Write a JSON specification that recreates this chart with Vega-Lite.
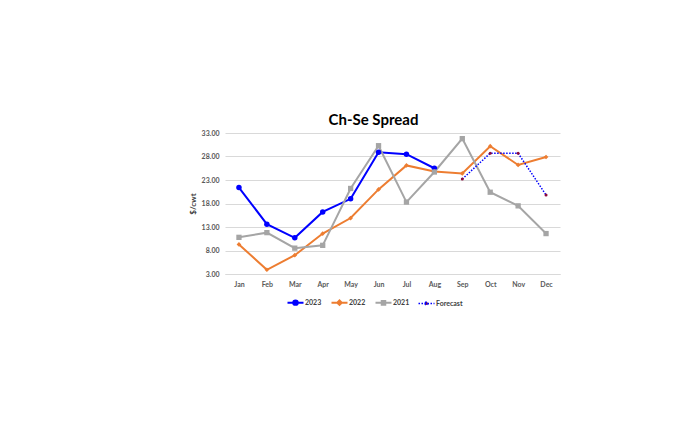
{
  "$schema": "https://vega.github.io/schema/vega-lite/v6.json",
  "autosize": {"type": "none"},
  "width": 335,
  "height": 141,
  "padding": {"left": 225, "top": 133, "right": 136, "bottom": 171},
  "background": "white",
  "title": {
    "text": "Ch-Se Spread",
    "font": "Lato",
    "fontSize": 15,
    "fontWeight": "bold",
    "color": "#000000",
    "anchor": "middle",
    "dx": -19,
    "offset": 1
  },
  "config": {
    "view": {"stroke": null},
    "font": "Lato"
  },
  "data": {
    "values": [
      {"month": "Jan", "series": "2023", "value": 21.4},
      {"month": "Feb", "series": "2023", "value": 13.6},
      {"month": "Mar", "series": "2023", "value": 10.7},
      {"month": "Apr", "series": "2023", "value": 16.2},
      {"month": "May", "series": "2023", "value": 19.0},
      {"month": "Jun", "series": "2023", "value": 28.9},
      {"month": "Jul", "series": "2023", "value": 28.5},
      {"month": "Aug", "series": "2023", "value": 25.5},
      {"month": "Jan", "series": "2022", "value": 9.3},
      {"month": "Feb", "series": "2022", "value": 3.9},
      {"month": "Mar", "series": "2022", "value": 7.0},
      {"month": "Apr", "series": "2022", "value": 11.6},
      {"month": "May", "series": "2022", "value": 14.9},
      {"month": "Jun", "series": "2022", "value": 21.0},
      {"month": "Jul", "series": "2022", "value": 26.1},
      {"month": "Aug", "series": "2022", "value": 24.8},
      {"month": "Sep", "series": "2022", "value": 24.4},
      {"month": "Oct", "series": "2022", "value": 30.2},
      {"month": "Nov", "series": "2022", "value": 26.2},
      {"month": "Dec", "series": "2022", "value": 27.9},
      {"month": "Jan", "series": "2021", "value": 10.8},
      {"month": "Feb", "series": "2021", "value": 11.8},
      {"month": "Mar", "series": "2021", "value": 8.5},
      {"month": "Apr", "series": "2021", "value": 9.1},
      {"month": "May", "series": "2021", "value": 21.2},
      {"month": "Jun", "series": "2021", "value": 30.3},
      {"month": "Jul", "series": "2021", "value": 18.3},
      {"month": "Aug", "series": "2021", "value": 24.7},
      {"month": "Sep", "series": "2021", "value": 31.8},
      {"month": "Oct", "series": "2021", "value": 20.4},
      {"month": "Nov", "series": "2021", "value": 17.5},
      {"month": "Dec", "series": "2021", "value": 11.6},
      {"month": "Sep", "series": "Forecast", "value": 23.2},
      {"month": "Oct", "series": "Forecast", "value": 28.7},
      {"month": "Nov", "series": "Forecast", "value": 28.7},
      {"month": "Dec", "series": "Forecast", "value": 19.8}
    ]
  },
  "encoding": {
    "x": {
      "field": "month",
      "type": "nominal",
      "sort": ["Jan", "Feb", "Mar", "Apr", "May", "Jun", "Jul", "Aug", "Sep", "Oct", "Nov", "Dec"],
      "scale": {"type": "point", "padding": 0.5},
      "axis": {
        "title": null,
        "labelAngle": 0,
        "labelFont": "Lato",
        "labelFontSize": 7,
        "labelFontWeight": "bold",
        "labelColor": "#595959",
        "labelPadding": 6,
        "ticks": false,
        "domainColor": "#D9D9D9",
        "grid": false
      }
    },
    "y": {
      "field": "value",
      "type": "quantitative",
      "scale": {"domain": [3, 33], "nice": false, "zero": false},
      "axis": {
        "title": "$/cwt",
        "titleFont": "Lato",
        "titleFontSize": 8,
        "titleFontWeight": "bold",
        "titleColor": "#404040",
        "titlePadding": 4,
        "values": [3, 8, 13, 18, 23, 28, 33],
        "format": ".2f",
        "labelFont": "Lato",
        "labelFontSize": 7,
        "labelFontWeight": "bold",
        "labelColor": "#595959",
        "labelPadding": 6,
        "ticks": false,
        "domain": false,
        "grid": true,
        "gridColor": "#D9D9D9",
        "gridWidth": 1
      }
    }
  },
  "layer": [
    {
      "transform": [{"filter": "datum.series !== 'Forecast'"}],
      "mark": {"type": "line", "strokeWidth": 2},
      "encoding": {
        "stroke": {
          "field": "series",
          "type": "nominal",
          "scale": {
            "domain": ["2023", "2022", "2021", "Forecast"],
            "range": ["#0000FF", "#ED7D31", "#A5A5A5", "#0000FF"]
          },
          "legend": {
            "orient": "none",
            "legendX": 67,
            "legendY": 166,
            "direction": "horizontal",
            "title": null,
            "labelFont": "Lato",
            "labelFontSize": 7,
            "labelFontWeight": "bold",
            "labelColor": "#404040",
            "labelOffset": 6,
            "columnPadding": 5,
            "symbolSize": 256,
            "symbolStrokeWidth": 2,
            "encode": {
              "symbols": {
                "update": {
                  "size": {"value": 256},
                  "shape": {"signal": "datum.value === '2023' ? 'M-1,0H1M-0.28,0A0.28,0.28,0,1,0,0.28,0A0.28,0.28,0,1,0,-0.28,0Z' : datum.value === '2022' ? 'M-1,0H1M0,-0.28L0.28,0L0,0.28L-0.28,0Z' : datum.value === '2021' ? 'M-1,0H1M-0.22,-0.22H0.22V0.22H-0.22Z' : 'M-1,0H1M-0.18,0A0.18,0.18,0,1,0,0.18,0A0.18,0.18,0,1,0,-0.18,0Z'"},
                  "stroke": {"signal": "datum.value === '2022' ? '#ED7D31' : datum.value === '2021' ? '#A5A5A5' : '#0000FF'"},
                  "fill": {"signal": "datum.value === '2023' ? '#0000FF' : datum.value === '2022' ? '#ED7D31' : datum.value === '2021' ? '#A5A5A5' : '#8B0A3C'"},
                  "fillOpacity": {"value": 1},
                  "strokeOpacity": {"value": 1},
                  "strokeDash": {"signal": "datum.value === 'Forecast' ? [1.5, 1.5] : []"},
                  "strokeWidth": {"signal": "datum.value === 'Forecast' ? 1.5 : 2"}
                }
              }
            }
          }
        }
      }
    },
    {
      "transform": [{"filter": "datum.series === 'Forecast'"}],
      "mark": {"type": "line", "strokeWidth": 1.5, "strokeDash": [1.5, 1.5]},
      "encoding": {
        "stroke": {"field": "series", "type": "nominal"}
      }
    },
    {
      "transform": [{"filter": "datum.series === '2023'"}],
      "mark": {"type": "point", "shape": "circle", "filled": true, "opacity": 1, "color": "#0000FF", "size": 30}
    },
    {
      "transform": [{"filter": "datum.series === '2022'"}],
      "mark": {"type": "point", "shape": "diamond", "filled": true, "opacity": 1, "color": "#ED7D31", "size": 22}
    },
    {
      "transform": [{"filter": "datum.series === '2021'"}],
      "mark": {"type": "point", "shape": "square", "filled": true, "opacity": 1, "color": "#A5A5A5", "size": 28}
    },
    {
      "transform": [{"filter": "datum.series === 'Forecast'"}],
      "mark": {"type": "point", "shape": "circle", "filled": true, "opacity": 1, "color": "#8B0A3C", "size": 9}
    }
  ]
}
